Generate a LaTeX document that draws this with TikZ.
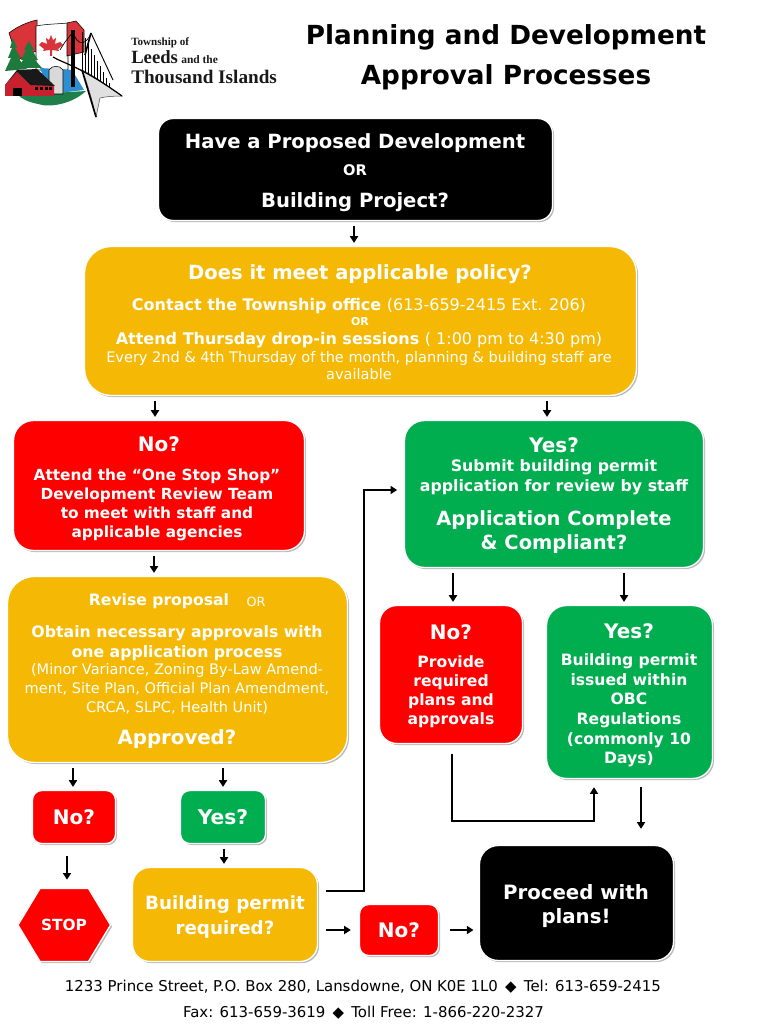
\documentclass[tikz,border=0pt]{standalone}
\usepackage{fontspec}
\setmainfont{DejaVu Sans}
\newfontfamily\logofont{Liberation Serif}
\usetikzlibrary{arrows.meta,shadows,calc}
\definecolor{amber}{HTML}{F5B905}
\definecolor{rd}{HTML}{FF0000}
\definecolor{grn}{HTML}{00AE50}
\definecolor{flagred}{HTML}{D8343A}
\definecolor{barn}{HTML}{C8202C}
\definecolor{treeg}{HTML}{1E7A3C}
\definecolor{ground}{HTML}{1F7F4A}
\definecolor{water}{HTML}{2E8FD0}
\newcommand{\fs}[1]{\fontsize{#1}{#1}\selectfont}
\tikzset{
  boxbase/.style={rounded corners=#1, draw=white, line width=1pt, text=white, align=center, font=\bfseries,
    inner sep=0pt, drop shadow={shadow xshift=1.2pt, shadow yshift=-1.2pt, fill=black!45, opacity=.6}},
  boxbase/.default=12pt,
  flow/.style={line width=1.8pt, -{Triangle[length=5pt,width=6pt]}},
  lab/.style={text=white,inner sep=0pt,align=center},
}
\begin{document}
\begin{tikzpicture}[x=0.75pt,y=-0.75pt]
\useasboundingbox[fill=white] (0,0) rectangle (766,1024);
% ---- logo ----
\draw[black,line width=.4pt,fill=flagred] (9,33) .. controls (18,26) and (28,22) .. (37,20) -- (38,50) -- (18,60) -- cycle;
\draw[black,line width=.4pt,fill=white] (36,26) .. controls (46,24) and (58,24) .. (68,23) -- (68,70) -- (36,70) -- cycle;
\draw[black,line width=.4pt,fill=flagred] (67,23) -- (76,21) -- (84,30) -- (84,52) -- (67,56) -- cycle;
\fill[flagred] (51,35) -- (53,40) -- (56,38) -- (55,44) -- (60,42) -- (63,45) -- (58,49) -- (59,51) -- (52,50) -- (52,56) -- (50,56) -- (50,50) -- (43,51) -- (44,49) -- (39,45) -- (42,42) -- (47,44) -- (46,38) -- (49,40) -- cycle;
\fill[water] (40,68) -- (72,70) -- (84,90) -- (50,94) -- cycle;
\fill[ground] (18,95) -- (86,91) .. controls (72,104) and (50,108) .. (38,104) .. controls (28,102) and (22,99) .. (18,95) -- cycle;
\fill[treeg] (13,38) -- (17,48) -- (15,48) -- (21,58) -- (18,58) -- (27,69) -- (5,71) -- (11,58) -- (8,58) -- (12,48) -- (10,48) -- cycle;
\fill[treeg] (29,41) -- (34,50) -- (32,50) -- (38,60) -- (35,60) -- (42,68) -- (18,68) -- (23,60) -- (21,60) -- (26,50) -- (24,50) -- cycle;
\draw[black,line width=.4pt,fill=black!15] (49,70) .. controls (52,65) and (60,65) .. (63,70) -- (63,94) -- (49,94) -- cycle;
\fill[barn] (5,85) -- (17,72) -- (30,85) -- (54,85) -- (54,96) -- (5,96) -- cycle;
\fill[black!90] (5,85) -- (17,70) -- (37,69) -- (55,86) -- (30,85) -- (17,72) -- cycle;
\fill[black] (13,88) rectangle (22,96);
\foreach \q in {35,40,45,49}{\fill[black] (\q,87) rectangle (\q+2.5,90);}
\draw[black!70,fill=black!12,line width=.4pt] (82,70) .. controls (95,76) and (110,88) .. (122,96) .. controls (112,96) and (104,97) .. (100,98) -- (96,117) .. controls (92,100) and (88,85) .. (82,70) -- cycle;
\foreach \q in {82,85,...,109}{\draw[black,line width=.35pt] (\q,{36+(\q-84)*1.9}) -- (\q,{70+(\q-82)*.62});}
\draw[black,line width=.9pt] (53,57) .. controls (65,64) and (80,66) .. (122,96);
\draw[black,line width=1.2pt] (82,70) -- (96,117);
\draw[black,line width=2.4pt] (73,30) -- (73,87);
\draw[black,line width=1.2pt] (91,33) -- (85,55);
\draw[black,line width=.7pt] (91,33) -- (113,80);
\draw[black,line width=.5pt] (91,33) .. controls (87,44) and (78,48) .. (73,32);
\draw[black,line width=.5pt] (60,50) -- (65,42) -- (73,32);
\node[anchor=west,font=\logofont\bfseries\fs{8.3},text=black!90,inner sep=0pt] (lg1) at (131,43) {Township of};
\node[anchor=west,font=\logofont\bfseries,text=black!90,inner sep=0pt] (lg2) at (131,57.5) {{\fs{14}Leeds} {\fs{8.6}and the}};
\node[anchor=west,font=\logofont\bfseries\fs{14.4},text=black!90,inner sep=0pt] (lg3) at (131,76.5) {Thousand Islands};
% ---- title ----
\node[font=\bfseries\fs{19.7},text=black,inner sep=0pt] (t1) at (506,37) {Planning and Development};
\node[font=\bfseries\fs{19.7},text=black,inner sep=0pt] (t2) at (506,77) {Approval Processes};
% ---- boxes ----
\node[boxbase=11pt, fill=black, minimum width=295.5pt, minimum height=76.5pt] (start) at (355.5,169.5) {};
\node[lab,font=\bfseries\fs{14.7}] (start1) at (355,143) {Have a Proposed Development};
\node[lab,font=\bfseries\fs{11}] (start2) at (355,170) {OR};
\node[lab,font=\bfseries\fs{14.7}] (start3) at (355,202) {Building Project?};

\node[boxbase=20pt, fill=amber, minimum width=414pt, minimum height=111.75pt] (policy) at (360.5,321) {};
\node[lab,font=\bfseries\fs{14.65}] (p1) at (360,274) {Does it meet applicable policy?};
\node[lab,font=\bfseries\fs{12}] (p2) at (359,306) {Contact the Township office {\normalfont(613-659-2415 Ext. 206)}};
\node[lab,font=\bfseries\fs{8.2}] (p3) at (360,322) {OR};
\node[lab,font=\bfseries\fs{12}] (p4) at (359,340) {Attend Thursday drop-in sessions {\normalfont( 1:00 pm to 4:30 pm)}};
\node[lab,font=\fs{10.9}] (p5) at (359,358) {Every 2nd \& 4th Thursday of the month, planning \& building staff are};
\node[lab,font=\fs{10.9}] (p6) at (359,374) {available};

\node[boxbase=15pt, fill=rd, minimum width=218.25pt, minimum height=97.5pt] (no1) at (159,485.5) {};
\node[lab,font=\bfseries\fs{15}] (n1a) at (159,444) {No?};
\node[lab,font=\bfseries\fs{11.5}] (n1b) at (157,504.5) {Attend the “One Stop Shop”\\[2.75pt]Development Review Team\\[2.75pt]to meet with staff and\\[2.75pt]applicable agencies};

\node[boxbase=20pt, fill=amber, minimum width=255pt, minimum height=139.5pt] (revise) at (177.5,669.5) {};
\node[lab,font=\bfseries\fs{11.7}] (r1) at (159,601) {Revise proposal};
\node[lab,font=\fs{9.5}] (r2) at (256,602) {OR};
\node[lab,font=\bfseries\fs{11.8}] (r3) at (177,643.5) {Obtain necessary approvals with\\[3.4pt]one application process};
\node[lab,font=\fs{10.9}] (r4) at (177,689) {(Minor Variance, Zoning By-Law Amend-\\[3.2pt]ment, Site Plan, Official Plan Amendment,\\[3.2pt]CRCA, SLPC, Health Unit)};
\node[lab,font=\bfseries\fs{14.8}] (r5) at (177,739) {Approved?};

\node[boxbase=15pt, fill=grn, minimum width=224.25pt, minimum height=110.25pt] (yes1) at (554,494) {};
\node[lab,font=\bfseries\fs{15}] (y1a) at (554,445) {Yes?};
\node[lab,font=\bfseries\fs{11.85}] (y1b) at (554,477) {Submit building permit\\[3pt]application for review by staff};
\node[lab,font=\bfseries\fs{14.6}] (y1c) at (554,532.5) {Application Complete\\[3.4pt]\& Compliant?};

\node[boxbase=13pt, fill=rd, minimum width=107.25pt, minimum height=103.5pt] (no2) at (451,674.5) {};
\node[lab,font=\bfseries\fs{15}] (n2a) at (451,632) {No?};
\node[lab,font=\bfseries\fs{11.7}] (n2b) at (451,692) {Provide\\[2.6pt]required\\[2.6pt]plans and\\[2.6pt]approvals};

\node[boxbase=15pt, fill=grn, minimum width=124.5pt, minimum height=129.75pt] (yes2) at (629.5,692) {};
\node[lab,font=\bfseries\fs{15}] (y2a) at (629,631) {Yes?};
\node[lab,font=\bfseries\fs{11.7}] (y2b) at (629,710.5) {Building permit\\[3pt]issued within\\[3pt]OBC\\[3pt]Regulations\\[3pt](commonly 10\\[3pt]Days)};

\node[boxbase=7pt, fill=rd, minimum width=62.25pt, minimum height=39.75pt, font=\bfseries\fs{15}] (no3) at (74,817) {No?};
\node[boxbase=7pt, fill=grn, minimum width=63.75pt, minimum height=39.75pt, font=\bfseries\fs{15.2}] (yes3) at (223,817) {Yes?};
\node[boxbase=13pt, fill=amber, minimum width=138.75pt, minimum height=70.5pt] (bp) at (225,914.5) {};
\node[lab,font=\bfseries\fs{13.7}] (bpt) at (225,917) {Building permit\\[4.8pt]required?};
\node[boxbase=7pt, fill=rd, minimum width=59.25pt, minimum height=38.25pt, font=\bfseries\fs{15}] (no4) at (399,930) {No?};
\node[boxbase=14pt, fill=black, minimum width=145.5pt, minimum height=86.25pt] (go) at (576.5,903) {};
\node[lab,font=\bfseries\fs{14.8}] (gotext) at (576,906) {Proceed with\\[3pt]plans!};
\path[draw=white,line width=1pt,fill=rd,drop shadow={shadow xshift=1.2pt,shadow yshift=-1.2pt,fill=black!45,opacity=.6}] (40,888.5) -- (88.5,888.5) -- (110.5,925) -- (88.5,961.5) -- (40,961.5) -- (18,925) -- cycle;
\node[lab,font=\bfseries\fs{11.5}] (stop) at (64,925) {STOP};
% ---- connectors ----
\begin{scope}[shorten <=3.5pt, shorten >=2.2pt]
\draw[flow] (354,0 |- start.south) -- (354,0 |- policy.north);
\draw[flow] (155,0 |- policy.south) -- (155,0 |- no1.north);
\draw[flow] (547,0 |- policy.south) -- (547,0 |- yes1.north);
\draw[flow] (154,0 |- no1.south) -- (154,0 |- revise.north);
\draw[flow] (453,0 |- yes1.south) -- (453,0 |- no2.north);
\draw[flow] (624,0 |- yes1.south) -- (624,0 |- yes2.north);
\draw[flow] (73,0 |- revise.south) -- (73,0 |- no3.north);
\draw[flow] (223,0 |- revise.south) -- (223,0 |- yes3.north);
\draw[flow,shorten <=9pt,shorten >=7pt] (67,0 |- no3.south) -- (67,889);
\draw[flow] (224,0 |- yes3.south) -- (224,0 |- bp.north);
\draw[flow,shorten <=6pt,shorten >=6pt] (bp.east |- 0,930) -- (no4.west);
\draw[flow,shorten <=8pt,shorten >=4pt] (no4.east) -- (go.west |- no4.east);
\draw[flow,shorten <=6pt,shorten >=5pt] (bp.east |- 0,891) -- (364,891) -- (364,490) -- (yes1.west |- 0,490);
\draw[flow,shorten <=7pt,shorten >=6pt] (452,0 |- no2.south) -- (452,821) -- (594,821) -- (594,0 |- yes2.south);
\draw[flow,shorten <=6pt,shorten >=12pt] (641,0 |- yes2.south) -- (641,0 |- go.north);
\end{scope}
% ---- footer ----
\node[text=black,font=\fs{11.2},inner sep=0pt] (f1) at (363,987) {1233 Prince Street, P.O. Box 280, Lansdowne, ON K0E 1L0 \,◆\, Tel: 613-659-2415};
\node[text=black,font=\fs{11.2},inner sep=0pt] (f2) at (363.5,1013) {Fax: 613-659-3619 \,◆\, Toll Free: 1-866-220-2327};
\end{tikzpicture}
\end{document}
